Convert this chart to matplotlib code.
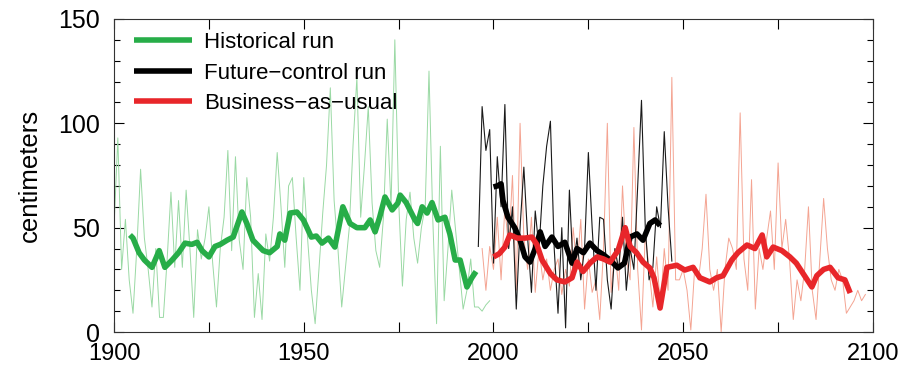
import numpy as np
import matplotlib.pyplot as plt
from matplotlib.ticker import MultipleLocator

plt.rcParams['font.family'] = ['Liberation Sans', 'DejaVu Sans']

# annual values (cm)
hist_years = list(range(1900, 2000))
hist_annual = [50, 93, 30, 54, 25, 9, 40, 78, 45, 30,
               12, 40, 7, 7, 35, 67, 31, 63, 31, 68,
               40, 7, 49, 35, 45, 60, 33, 12, 40, 55,
               87, 39, 84, 44, 30, 74, 55, 7, 28, 6,
               47, 34, 55, 86, 60, 31, 70, 74, 45, 20,
               74, 45, 20, 4, 30, 57, 80, 117, 63, 40,
               12, 31, 50, 90, 122, 55, 80, 108, 62, 39,
               31, 55, 102, 60, 140, 63, 22, 54, 67, 45,
               33, 50, 60, 125, 54, 4, 89, 15, 40, 68,
               49, 30, 11, 20, 35, 12, 12, 10, 13, 15]

ctrl_years = list(range(1996, 2048))
ctrl_annual = [41, 108, 87, 97, 33, 84, 60, 109, 40, 60,
               11, 50, 79, 45, 19, 58, 40, 70, 89, 101,
               40, 9, 50, 2, 68, 30, 45, 25, 40, 86,
               50, 20, 55, 54, 25, 11, 40, 30, 55, 20,
               40, 30, 70, 111, 50, 25, 31, 60, 50, 96,
               60, 34]

bau_years = list(range(1997, 2099))
bau_annual = [40, 20, 41, 30, 55, 25, 60, 40, 75, 20,
              100, 45, 30, 55, 19, 40, 25, 35, 20, 30,
              35, 18, 30, 22, 50, 30, 54, 11, 35, 19,
              25, 6, 40, 100, 19, 40, 20, 70, 35, 25,
              98, 30, 1, 47, 30, 12, 36, 12, 40, 20,
              122, 25, 25, 30, 20, 1, 30, 25, 40, 66,
              30, 20, 30, 0, 30, 45, 40, 30, 105, 35,
              20, 73, 11, 40, 30, 45, 58, 30, 81, 40,
              54, 35, 6, 25, 15, 30, 60, 20, 6, 35,
              64, 40, 25, 20, 30, 25, 9, 12, 15, 20,
              15, 18]

# smoothed curves
hist_smooth_years = [1904.2, 1905, 1906.6, 1908, 1910, 1911.9, 1913.4, 1915.3, 1917, 1918.7,
                     1920.5, 1921.9, 1923.2, 1925, 1926.6, 1928, 1929.8, 1931.4, 1933.7, 1935,
                     1936.6, 1939.3, 1941, 1943, 1943.7, 1945, 1946.4, 1948.2, 1949.9, 1952,
                     1953.3, 1954.8, 1956.5, 1958.2, 1960.3, 1962.2, 1964, 1966.1, 1967.5, 1968.8,
                     1970, 1971.4, 1973.3, 1974.8, 1975.4, 1977, 1979.3, 1980, 1981.2, 1982.5,
                     1983.8, 1985.4, 1987.2, 1988.5, 1989.9, 1991.2, 1993, 1994.3, 1995.4]
hist_smooth = [46.5, 45, 38, 34.5, 31, 39, 31, 34.5, 38, 42.6,
               42, 43, 39, 36, 41, 42, 44, 45.5, 57.5, 52,
               44, 39, 38, 41, 47, 44, 57, 57.5, 53.7, 45.5,
               46, 42.6, 45, 40.7, 60, 52, 50, 50, 53.7, 48,
               55, 64.7, 58.5, 61.8, 65.6, 62, 53.7, 52, 60, 57,
               62, 53.7, 55, 47, 34.5, 34.5, 21.6, 26, 29]

ctrl_smooth_years = [2000, 2001, 2002, 2002.5, 2003.8, 2005.6, 2007, 2008.3, 2009.6, 2011,
                     2012.3, 2013.6, 2015.4, 2017, 2018.8, 2020.7, 2022, 2023.7, 2025.4, 2027.3,
                     2029, 2030.7, 2032.8, 2034.5, 2036, 2037.8, 2039.4, 2041.2, 2042.6, 2043.9]
ctrl_smooth = [69.5, 70, 71, 63, 55, 50, 44, 36, 33.5, 40,
               48, 41, 45.5, 41, 43, 33, 40, 38, 42.6, 39,
               37, 34.5, 30.7, 33, 45.5, 47, 44, 52, 53.7, 51]

bau_smooth_years = [2000, 2001.5, 2003, 2004.3, 2006.3, 2008.3, 2010.1, 2011.4, 2012.8, 2015,
                    2016.7, 2018.8, 2020.7, 2022, 2023.6, 2025.4, 2027.3, 2029, 2030.7, 2032.8,
                    2034.7, 2036, 2037.7, 2039.4, 2041.2, 2042.3, 2043.9, 2045.7, 2048.3, 2050.4,
                    2052.6, 2054.4, 2057, 2058.8, 2060.5, 2062.8, 2064.4, 2066.8, 2068.9, 2070.8,
                    2072, 2073.7, 2076, 2078.1, 2079.8, 2081.6, 2083.9, 2085.2, 2087, 2088.7,
                    2090.8, 2092.6, 2094]
bau_smooth = [36, 37.5, 40.7, 46.5, 45, 45, 45.5, 42, 34.5, 28,
              25, 24, 26, 33.5, 29, 33, 36, 35, 33.5, 39,
              50, 41, 38, 33.5, 30.7, 26, 11.5, 31, 32, 29.7,
              31, 26, 24, 26, 27, 34.5, 38, 41.7, 40, 46.5,
              36, 40.7, 39, 36, 33, 28, 21.6, 27, 30, 31,
              26, 25, 18.7]

fig = plt.figure(figsize=(9.05, 3.71), dpi=100)
ax = fig.add_axes([0.126, 0.105, 0.8386, 0.844])

ax.plot(hist_years, hist_annual, color='#9ad9a4', lw=0.7)
ax.plot(bau_years, bau_annual, color='#f4a492', lw=0.7)
ax.plot(ctrl_years, ctrl_annual, color='#1a1a1a', lw=0.8)
ax.plot(hist_smooth_years, hist_smooth, color='#27ad48', lw=4, solid_capstyle='butt',
        label='Historical run')
ax.plot(ctrl_smooth_years, ctrl_smooth, color='black', lw=4, solid_capstyle='butt',
        label='Future\u2212control run')
ax.plot(bau_smooth_years, bau_smooth, color='#e8262a', lw=4, solid_capstyle='butt',
        label='Business\u2212as\u2212usual')

ax.set_xlim(1900, 2100)
ax.set_ylim(0, 150)
ax.xaxis.set_major_locator(MultipleLocator(50))
ax.xaxis.set_minor_locator(MultipleLocator(25))
ax.yaxis.set_major_locator(MultipleLocator(50))
ax.yaxis.set_minor_locator(MultipleLocator(10))
ax.tick_params(which='both', direction='in', top=True, right=True, width=0.8)
ax.tick_params(which='major', length=7)
ax.tick_params(which='minor', length=4)
ax.tick_params(axis='x', which='minor', length=7)
ax.tick_params(axis='x', which='major', labelsize=17, pad=8)
ax.tick_params(axis='y', which='major', labelsize=18, pad=10)
for s in ax.spines.values():
    s.set_linewidth(0.8)
    s.set_color('#333333')

ax.set_ylabel('centimeters', fontsize=18.5, labelpad=12)

ax.legend(loc='upper left', bbox_to_anchor=(0.009, 1.0), frameon=False, fontsize=16,
          handlelength=2.6, handletextpad=0.55, labelspacing=0.42, borderaxespad=0.2)

fig.savefig('out.png', dpi=100)
